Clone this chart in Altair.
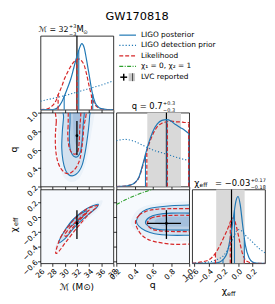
import altair as alt
import pandas as pd

# ------------------------------------------------------------------ data
TITLE = "GW170818"
MC_DOMAIN = [26, 38]
Q_DOMAIN = [0.2, 1.0]
CHI_DOMAIN = [-0.63, 0.37]
PDF_DOMAIN = [0, 1.05]
MC_TICKS = [26, 28, 30, 32, 34, 36, 38]
Q_TICKS = [0.2, 0.4, 0.6, 0.8, 1.0]
CHI_TICKS = [-0.6, -0.4, -0.2, 0.0, 0.2]

LVC_MC = 32.0
LVC_Q = 0.75
LVC_Q_BAND = [0.54, 0.91]
LVC_CHI = -0.09
LVC_CHI_BAND = [-0.30, 0.09]

# 1D chirp mass
MC_X = [26, 27, 28, 28.5, 29, 29.5, 30, 30.5, 31, 31.5, 32, 32.4, 32.8, 33.2, 33.6, 34, 34.5, 35, 35.5, 36, 37, 38]
MC_POST = [0, 0, 0.003, 0.012, 0.045, 0.11, 0.21, 0.32, 0.44, 0.6, 0.76, 0.87, 0.94, 0.88, 0.7, 0.5, 0.25, 0.1, 0.04, 0.015, 0.002, 0]
MC_LIKE = [0.003, 0.01, 0.06, 0.12, 0.23, 0.33, 0.45, 0.54, 0.62, 0.68, 0.72, 0.72, 0.69, 0.63, 0.5, 0.34, 0.17, 0.07, 0.03, 0.01, 0.002, 0]
MC_PRIOR_X = [26, 28, 30, 32, 34, 36, 38]
MC_PRIOR = [0.12, 0.16, 0.2, 0.25, 0.3, 0.35, 0.41]
MC_POST_QX = [29.9, 32.3, 34.6]
MC_POST_QH = [0.2, 0.84, 0.22]
MC_LIKE_QX = [28.9, 32.0, 34.4]
MC_LIKE_QH = [0.22, 0.72, 0.2]

# 1D mass ratio
Q_X = [0.2, 0.3, 0.35, 0.4, 0.45, 0.5, 0.55, 0.6, 0.65, 0.7, 0.75, 0.8, 0.85, 0.9, 0.95, 1.0]
Q_POST = [0, 0.005, 0.02, 0.05, 0.14, 0.36, 0.6, 0.78, 0.89, 0.94, 0.95, 0.93, 0.88, 0.84, 0.8, 0.75]
Q_LIKE = [0, 0.005, 0.02, 0.05, 0.13, 0.34, 0.57, 0.74, 0.85, 0.9, 0.92, 0.93, 0.92, 0.92, 0.91, 0.91]
Q_PRIOR_X = [0.2, 0.3, 0.4, 0.5, 0.6, 0.7, 0.8, 0.9, 1.0]
Q_PRIOR = [0.65, 0.67, 0.64, 0.58, 0.52, 0.48, 0.44, 0.4, 0.37]
Q_POST_QX = [0.52, 0.755, 0.995]
Q_POST_QH = [0.46, 0.95, 0.75]
Q_LIKE_QX = [0.535, 0.76, 0.995]
Q_LIKE_QH = [0.5, 0.92, 0.91]

# 1D effective spin
CHI_X = [-0.63, -0.5, -0.4, -0.3, -0.25, -0.2, -0.15, -0.1, -0.06, -0.03, 0.0, 0.03, 0.06, 0.1, 0.15, 0.2, 0.25, 0.37]
CHI_POST = [0, 0, 0.001, 0.006, 0.02, 0.06, 0.15, 0.4, 0.68, 0.88, 0.95, 0.83, 0.57, 0.26, 0.08, 0.02, 0.005, 0]
CHI_LIKE = [0.003, 0.02, 0.05, 0.16, 0.25, 0.36, 0.47, 0.6, 0.65, 0.55, 0.42, 0.27, 0.14, 0.05, 0.015, 0.004, 0.001, 0]
CHI_PRIOR_X = [-0.63, -0.5, -0.4, -0.3, -0.2, -0.1, -0.05, 0.0, 0.05, 0.1, 0.2, 0.3, 0.37]
CHI_PRIOR = [0.0, 0.005, 0.02, 0.05, 0.11, 0.28, 0.4, 0.48, 0.46, 0.4, 0.3, 0.2, 0.15]
CHI_POST_QX = [-0.207, -0.049, 0.086]
CHI_POST_QH = [0.055, 0.76, 0.36]
CHI_LIKE_QX = [-0.31, -0.107, 0.086]
CHI_LIKE_QH = [0.15, 0.59, 0.06]

# 2D: q vs chirp mass (Mc, q)
QMC_GLOW_X = [29.3, 29.0, 28.8, 28.9, 29.3, 30.0, 30.9, 31.8, 32.6, 33.3, 33.8, 34.3, 34.8, 34.9]
QMC_GLOW_Y = [1.1, 0.9, 0.7, 0.52, 0.38, 0.29, 0.25, 0.26, 0.31, 0.42, 0.55, 0.75, 0.95, 1.1]
QMC_CORE_X = [31.5, 31.4, 31.6, 32.0, 32.4, 32.6, 32.7]
QMC_CORE_Y = [1.1, 0.85, 0.7, 0.64, 0.7, 0.85, 1.1]
QMC_B90_X = [29.9, 29.8, 29.6, 29.5, 29.7, 30.1, 30.6, 31.2, 31.8, 32.4, 32.9, 33.3, 33.6, 33.9, 34.1, 34.2]
QMC_B90_Y = [1.1, 0.95, 0.8, 0.62, 0.48, 0.38, 0.33, 0.315, 0.33, 0.37, 0.44, 0.55, 0.67, 0.82, 0.97, 1.1]
QMC_B50_X = [31.1, 30.85, 30.75, 30.85, 31.2, 31.7, 32.2, 32.6, 32.85, 33.0, 33.15]
QMC_B50_Y = [1.1, 0.88, 0.74, 0.62, 0.55, 0.52, 0.53, 0.58, 0.7, 0.85, 1.1]
QMC_R90_X = [28.8, 28.6, 28.45, 28.5, 28.8, 29.3, 30.0, 30.7, 31.4, 32.0, 32.5, 32.85, 33.1, 33.3]
QMC_R90_Y = [1.1, 0.9, 0.75, 0.6, 0.48, 0.4, 0.35, 0.34, 0.37, 0.42, 0.5, 0.64, 0.82, 1.1]
QMC_R50_X = [30.8, 30.55, 30.5, 30.7, 31.1, 31.6, 32.1, 32.35, 32.45, 32.55]
QMC_R50_Y = [1.1, 0.86, 0.74, 0.63, 0.57, 0.55, 0.57, 0.66, 0.8, 1.1]

# 2D: chi_eff vs chirp mass (Mc, chi)
CMC_GLOW_X = [28.3, 29.0, 30.5, 32.0, 33.6, 35.0, 36.2, 35.8, 34.5, 32.8, 31.0, 29.4]
CMC_GLOW_Y = [-0.45, -0.3, -0.12, 0.02, 0.12, 0.19, 0.22, 0.13, 0.02, -0.1, -0.25, -0.42]
CMC_CORE_X = [31.4, 32.2, 33.1, 33.0, 32.0]
CMC_CORE_Y = [-0.07, 0.0, 0.05, 0.02, -0.06]
CMC_B90_X = [29.0, 29.6, 30.8, 32.1, 33.4, 34.6, 35.5, 35.2, 34.0, 32.6, 31.2, 30.0]
CMC_B90_Y = [-0.35, -0.24, -0.09, 0.02, 0.10, 0.15, 0.17, 0.12, 0.04, -0.06, -0.18, -0.30]
CMC_B50_X = [30.8, 31.6, 32.6, 33.5, 33.6, 32.8, 31.8, 31.0]
CMC_B50_Y = [-0.10, -0.02, 0.04, 0.08, 0.06, -0.01, -0.08, -0.13]
CMC_R90_X = [28.5, 29.3, 30.5, 31.6, 32.7, 33.7, 34.7, 35.4, 35.0, 34.0, 32.1, 30.2, 29.0]
CMC_R90_Y = [-0.48, -0.28, -0.14, -0.03, 0.05, 0.11, 0.14, 0.15, 0.11, 0.04, -0.14, -0.34, -0.47]
CMC_R50_X = [30.0, 30.8, 31.8, 33.0, 34.0, 33.6, 32.4, 31.2, 30.3]
CMC_R50_Y = [-0.24, -0.15, -0.07, 0.02, 0.09, 0.05, -0.05, -0.16, -0.26]

# 2D: chi_eff vs q (q, chi)
CQ_GLOW_X = [0.36, 0.41, 0.5, 0.65, 0.85, 1.0, 1.1, 1.1, 1.0, 0.8, 0.6, 0.47, 0.39]
CQ_GLOW_Y = [-0.07, 0.06, 0.14, 0.18, 0.2, 0.21, 0.21, -0.33, -0.33, -0.33, -0.3, -0.24, -0.16]
CQ_CORE_X = [0.62, 0.7, 0.85, 1.0, 1.1, 1.1, 1.0, 0.85, 0.7]
CQ_CORE_Y = [-0.06, -0.01, 0.0, 0.0, 0.0, -0.13, -0.13, -0.13, -0.12]
CQ_B90_X = [0.42, 0.46, 0.53, 0.64, 0.8, 1.0, 1.1, 1.1, 1.0, 0.8, 0.62, 0.52, 0.45]
CQ_B90_Y = [-0.06, 0.04, 0.1, 0.13, 0.15, 0.16, 0.16, -0.25, -0.25, -0.25, -0.23, -0.19, -0.13]
CQ_B50_X = [0.52, 0.56, 0.65, 0.8, 1.0, 1.1, 1.1, 1.0, 0.8, 0.65, 0.57]
CQ_B50_Y = [-0.08, -0.01, 0.03, 0.05, 0.05, 0.05, -0.18, -0.18, -0.18, -0.17, -0.14]
CQ_R90_X = [0.41, 0.45, 0.52, 0.62, 0.8, 1.0, 1.1, 1.1, 1.0, 0.8, 0.6, 0.5, 0.44]
CQ_R90_Y = [-0.07, 0.02, 0.07, 0.1, 0.11, 0.11, 0.11, -0.37, -0.37, -0.37, -0.33, -0.27, -0.18]
CQ_R50_X = [0.54, 0.58, 0.68, 0.85, 1.0, 1.1, 1.1, 1.0, 0.85, 0.68, 0.58]
CQ_R50_Y = [-0.09, -0.02, 0.01, 0.02, 0.02, 0.02, -0.2, -0.2, -0.2, -0.19, -0.16]
# chi1 = 0, chi2 = 1 line
SPIN_Q = [0.2, 0.3, 0.4, 0.5, 0.6, 0.7]
SPIN_CHI = [0.165, 0.23, 0.285, 0.333, 0.375, 0.41]

LEGEND_LABELS = ["LIGO posterior", "LIGO detection prior", "Likelihood", "χ₁ = 0, χ₂ = 1", "LVC reported"]

# ------------------------------------------------------------------ style
BLUE = "#1f77b4"
RED = "#d62728"
GREEN = "#2ca02c"
SHADE = "#2b6cb0"
BAND = "#d9d9d9"
FONT = "DejaVu Sans"
W, H = 74, 75
ONE = pd.DataFrame({"a": [0]})
DASH = [4, 2]
DOT = [1.2, 2]
DASHDOT = [4, 1.5, 1, 1.5]


def make_axis(ticks, fmt, labels, is_x):
    return alt.Axis(values=ticks, format=fmt, labels=labels, title=None, grid=False,
                    domain=False, ticks=True, tickSize=3, tickColor="black", tickWidth=0.8,
                    labelAngle=315, labelAlign="right",
                    labelBaseline="top" if is_x else "middle",
                    labelFontSize=7.5, labelFont=FONT, labelColor="black",
                    labelFlush=False, labelOverlap=False, labelPadding=1, labelBound=False)


def xpos(dom, axis):
    sc = alt.Scale(domain=dom, nice=False, zero=False)
    return lambda f: alt.X(f"{f}:Q", scale=sc, axis=axis)


def ypos(dom, axis):
    sc = alt.Scale(domain=dom, nice=False, zero=False)
    return lambda f: alt.Y(f"{f}:Q", scale=sc, axis=axis)


def line_layer(X, Y, xs, ys, color, dash=None, width=1.1, interp="monotone"):
    df = pd.DataFrame({"x": xs, "y": ys, "i": list(range(len(xs)))})
    kw = dict(color=color, strokeWidth=width, interpolate=interp, clip=True)
    if dash:
        kw["strokeDash"] = dash
    return alt.Chart(df).mark_line(**kw).encode(x=X("x"), y=Y("y"), order="i:Q")


def fill_layer(X, Y, xs, ys, op):
    df = pd.DataFrame({"x": xs, "y": ys, "i": list(range(len(xs)))})
    return alt.Chart(df).mark_line(filled=True, fill=SHADE, fillOpacity=op, strokeWidth=0,
                                   interpolate="cardinal-closed", clip=True).encode(
        x=X("x"), y=Y("y"), order="i:Q")


def vrules(X, Y, xs, hs, color, dash=None, width=1.1):
    df = pd.DataFrame({"x": xs, "y0": [0] * len(xs), "y1": hs})
    kw = dict(color=color, strokeWidth=width)
    if dash:
        kw["strokeDash"] = dash
    return alt.Chart(df).mark_rule(**kw).encode(x=X("x"), y=Y("y0"), y2=alt.Y2("y1"))


def txt(t, x, y, size=8.0, align="left", baseline="alphabetic", angle=None):
    kw = dict(text=t, fontSize=size, font=FONT, align=align, baseline=baseline, color="black")
    if angle is not None:
        kw["angle"] = angle
    return alt.Chart(ONE).mark_text(**kw).encode(x=alt.value(x), y=alt.value(y))


def diag(X, Y, band, lvc, post, like, prior, postq, likeq):
    layers = []
    if band is not None:
        layers.append(alt.Chart(pd.DataFrame({"x0": [band[0]], "x1": [band[1]]}))
                      .mark_rect(color=BAND).encode(x=X("x0"), x2=alt.X2("x1")))
    layers.append(alt.Chart(pd.DataFrame({"x": [lvc]})).mark_rule(color="black", strokeWidth=1.2)
                  .encode(x=X("x")))
    layers.append(line_layer(X, Y, prior[0], prior[1], BLUE, DOT, 1.1))
    layers.append(line_layer(X, Y, like[0], like[1], RED, DASH, 1.2))
    layers.append(line_layer(X, Y, post[0], post[1], BLUE, None, 1.2))
    layers.append(vrules(X, Y, postq[0], postq[1], BLUE))
    layers.append(vrules(X, Y, likeq[0], likeq[1], RED, DASH, 1.2))
    return layers


def two_d(X, Y, glow, b90, b50, core, r90, r50):
    return [
        fill_layer(X, Y, glow[0], glow[1], 0.05),
        fill_layer(X, Y, b90[0], b90[1], 0.12),
        fill_layer(X, Y, b50[0], b50[1], 0.15),
        fill_layer(X, Y, core[0], core[1], 0.14),
        line_layer(X, Y, b90[0], b90[1], BLUE, None, 1.1, "cardinal-closed"),
        line_layer(X, Y, b50[0], b50[1], BLUE, None, 1.1, "cardinal-closed"),
        line_layer(X, Y, r90[0], r90[1], RED, DASH, 1.2, "cardinal-closed"),
        line_layer(X, Y, r50[0], r50[1], RED, DASH, 1.2, "cardinal-closed"),
    ]


def cross(X, Y, xs=None, ys=None, vx=None, vy=None):
    layers = []
    if vx is not None:
        layers.append(alt.Chart(pd.DataFrame({"x": [vx[0]], "y0": [vx[1]], "y1": [vx[2]]}))
                      .mark_rule(color="black", strokeWidth=1.3)
                      .encode(x=X("x"), y=Y("y0"), y2=alt.Y2("y1")))
    if vy is not None:
        layers.append(alt.Chart(pd.DataFrame({"y": [vy[0]], "x0": [vy[1]], "x1": [vy[2]]}))
                      .mark_rule(color="black", strokeWidth=1.3)
                      .encode(y=Y("y"), x=X("x0"), x2=alt.X2("x1")))
    layers.append(alt.Chart(pd.DataFrame({"x": [xs], "y": [ys]}))
                  .mark_circle(color="black", size=8, opacity=1).encode(x=X("x"), y=Y("y")))
    return layers


PANEL_BG = alt.ViewBackground(fill="#f6f9fd", stroke="black", strokeWidth=0.8)
DIAG_BG = alt.ViewBackground(fill="white", stroke="black", strokeWidth=0.8)

# ---------------------------------------------------------------- panel 1: Mc diag
Xm_hidden = xpos(MC_DOMAIN, make_axis(MC_TICKS, "d", False, True))
Yp = ypos(PDF_DOMAIN, None)
mc_layers = diag(Xm_hidden, Yp, None, LVC_MC, (MC_X, MC_POST), (MC_X, MC_LIKE),
                 (MC_PRIOR_X, MC_PRIOR), (MC_POST_QX, MC_POST_QH), (MC_LIKE_QX, MC_LIKE_QH))
mc_layers += [
    txt(TITLE, 98, -16, 11.5, "center"),
    txt("ℳ = 32", 28.5, -4, 8, "right"),
    txt("+3", 29, -7.8, 5), txt("−3", 29, -0.3, 5),
    txt("M", 36.5, -4, 8.5), txt("⊙", 43.5, -1.5, 5.5),
]
# legend
LEG_Y = [-0.7, 9.7, 20.3, 31, 42]
leg_styles = [(BLUE, None), (BLUE, DOT), (RED, DASH), (GREEN, DASHDOT)]
for k, (c, d) in enumerate(leg_styles):
    kw = dict(color=c, strokeWidth=1.2)
    if d:
        kw["strokeDash"] = d
    mc_layers.append(alt.Chart(ONE).mark_rule(**kw).encode(
        x=alt.value(80), x2=alt.value(97), y=alt.value(LEG_Y[k])))
mc_layers.append(alt.Chart(ONE).mark_rect(color="#c8c8c8").encode(
    x=alt.value(89.5), x2=alt.value(96), y=alt.value(LEG_Y[4] - 4), y2=alt.value(LEG_Y[4] + 4)))
mc_layers.append(alt.Chart(ONE).mark_rule(color="#444", strokeWidth=1).encode(
    x=alt.value(93.5), y=alt.value(LEG_Y[4] - 4), y2=alt.value(LEG_Y[4] + 4)))
mc_layers.append(alt.Chart(ONE).mark_rule(color="black", strokeWidth=1.5).encode(
    x=alt.value(81), x2=alt.value(88), y=alt.value(LEG_Y[4])))
mc_layers.append(alt.Chart(ONE).mark_rule(color="black", strokeWidth=1.5).encode(
    x=alt.value(84.5), y=alt.value(LEG_Y[4] - 3.5), y2=alt.value(LEG_Y[4] + 3.5)))
for k, lab in enumerate(LEGEND_LABELS):
    mc_layers.append(txt(lab, 102, LEG_Y[k], 7.5, "left", "middle"))
mc_diag = alt.layer(*mc_layers).properties(width=W, height=H, view=DIAG_BG)

# ---------------------------------------------------------------- panel: q vs Mc
Yq_lab = ypos(Q_DOMAIN, make_axis(Q_TICKS, ".1f", True, False))
qmc_layers = two_d(Xm_hidden, Yq_lab, (QMC_GLOW_X, QMC_GLOW_Y), (QMC_B90_X, QMC_B90_Y),
                   (QMC_B50_X, QMC_B50_Y), (QMC_CORE_X, QMC_CORE_Y),
                   (QMC_R90_X, QMC_R90_Y), (QMC_R50_X, QMC_R50_Y))
qmc_layers += cross(Xm_hidden, Yq_lab, LVC_MC, LVC_Q, vx=(LVC_MC, LVC_Q_BAND[0], LVC_Q_BAND[1]))
qmc_layers.append(txt("q", -27, 37.5, 9.5, "center", "middle", 270))
q_mc = alt.layer(*qmc_layers).properties(width=W, height=H, view=PANEL_BG)

# ---------------------------------------------------------------- panel: q diag
Xq_hidden = xpos(Q_DOMAIN, make_axis(Q_TICKS, ".1f", False, True))
q_layers = diag(Xq_hidden, Yp, LVC_Q_BAND, LVC_Q, (Q_X, Q_POST), (Q_X, Q_LIKE),
                (Q_PRIOR_X, Q_PRIOR), (Q_POST_QX, Q_POST_QH), (Q_LIKE_QX, Q_LIKE_QH))
q_layers += [
    txt("q = 0.7", 47, -4, 8.5, "right"),
    txt("+0.3", 47.5, -7.8, 5), txt("−0.3", 47.5, -0.3, 5),
]
q_diag = alt.layer(*q_layers).properties(width=W, height=H, view=DIAG_BG)

# ---------------------------------------------------------------- panel: chi vs Mc
Xm_lab = xpos(MC_DOMAIN, make_axis(MC_TICKS, "d", True, True))
Yc_lab = ypos(CHI_DOMAIN, make_axis(CHI_TICKS, ".1f", True, False))
cmc_layers = two_d(Xm_lab, Yc_lab, (CMC_GLOW_X, CMC_GLOW_Y), (CMC_B90_X, CMC_B90_Y),
                   (CMC_B50_X, CMC_B50_Y), (CMC_CORE_X, CMC_CORE_Y),
                   (CMC_R90_X, CMC_R90_Y), (CMC_R50_X, CMC_R50_Y))
cmc_layers += cross(Xm_lab, Yc_lab, LVC_MC, LVC_CHI, vx=(LVC_MC, LVC_CHI_BAND[0], LVC_CHI_BAND[1]))
cmc_layers += [
    txt("χ", -27, 41, 9.5, "center", "middle", 270),
    txt("eff", -25, 37, 6.5, "left", "middle", 270),
    txt("ℳ (M⊙)", 37, 102, 9, "center"),
]
chi_mc = alt.layer(*cmc_layers).properties(width=W, height=H, view=PANEL_BG)

# ---------------------------------------------------------------- panel: chi vs q
Xq_lab = xpos(Q_DOMAIN, make_axis(Q_TICKS, ".1f", True, True))
Yc_hidden = ypos(CHI_DOMAIN, make_axis(CHI_TICKS, ".1f", False, False))
cq_layers = two_d(Xq_lab, Yc_hidden, (CQ_GLOW_X, CQ_GLOW_Y), (CQ_B90_X, CQ_B90_Y),
                  (CQ_B50_X, CQ_B50_Y), (CQ_CORE_X, CQ_CORE_Y),
                  (CQ_R90_X, CQ_R90_Y), (CQ_R50_X, CQ_R50_Y))
cq_layers.append(line_layer(Xq_lab, Yc_hidden, SPIN_Q, SPIN_CHI, GREEN, DASHDOT, 1.1))
cq_layers += cross(Xq_lab, Yc_hidden, LVC_Q, LVC_CHI,
                   vx=(LVC_Q, LVC_CHI_BAND[0], LVC_CHI_BAND[1]),
                   vy=(LVC_CHI, LVC_Q_BAND[0], LVC_Q_BAND[1]))
cq_layers.append(txt("q", 37, 100, 9.5, "center"))
chi_q = alt.layer(*cq_layers).properties(width=W, height=H, view=PANEL_BG)

# ---------------------------------------------------------------- panel: chi diag
Xc_lab = xpos(CHI_DOMAIN, make_axis(CHI_TICKS, ".1f", True, True))
c_layers = diag(Xc_lab, Yp, LVC_CHI_BAND, LVC_CHI, (CHI_X, CHI_POST), (CHI_X, CHI_LIKE),
                (CHI_PRIOR_X, CHI_PRIOR), (CHI_POST_QX, CHI_POST_QH), (CHI_LIKE_QX, CHI_LIKE_QH))
c_layers += [
    txt("χ", 2, -4, 9, "left"), txt("eff", 7.5, -2, 6, "left"),
    txt("= −0.03", 59, -4, 8.5, "right"),
    txt("+0.17", 59.5, -7.8, 5), txt("−0.18", 59.5, -0.3, 5),
    txt("χ", 30, 106, 9.5, "left"), txt("eff", 35.5, 108.5, 6.5, "left"),
]
chi_diag = alt.layer(*c_layers).properties(width=W, height=H, view=DIAG_BG)

empty = alt.Chart(ONE).mark_point(opacity=0).encode(
    x=alt.value(0), y=alt.value(0)).properties(
    width=W, height=H, view=alt.ViewBackground(stroke="transparent", fill="transparent"))

chart = alt.concat(
    mc_diag, empty, empty,
    q_mc, q_diag, empty,
    chi_mc, chi_q, chi_diag,
    columns=3, spacing=3, bounds="flush",
).properties(padding=0).configure_view(stroke="black", strokeWidth=0.8)

chart.save("out.html", embed_options={"renderer": "svg", "actions": False})
